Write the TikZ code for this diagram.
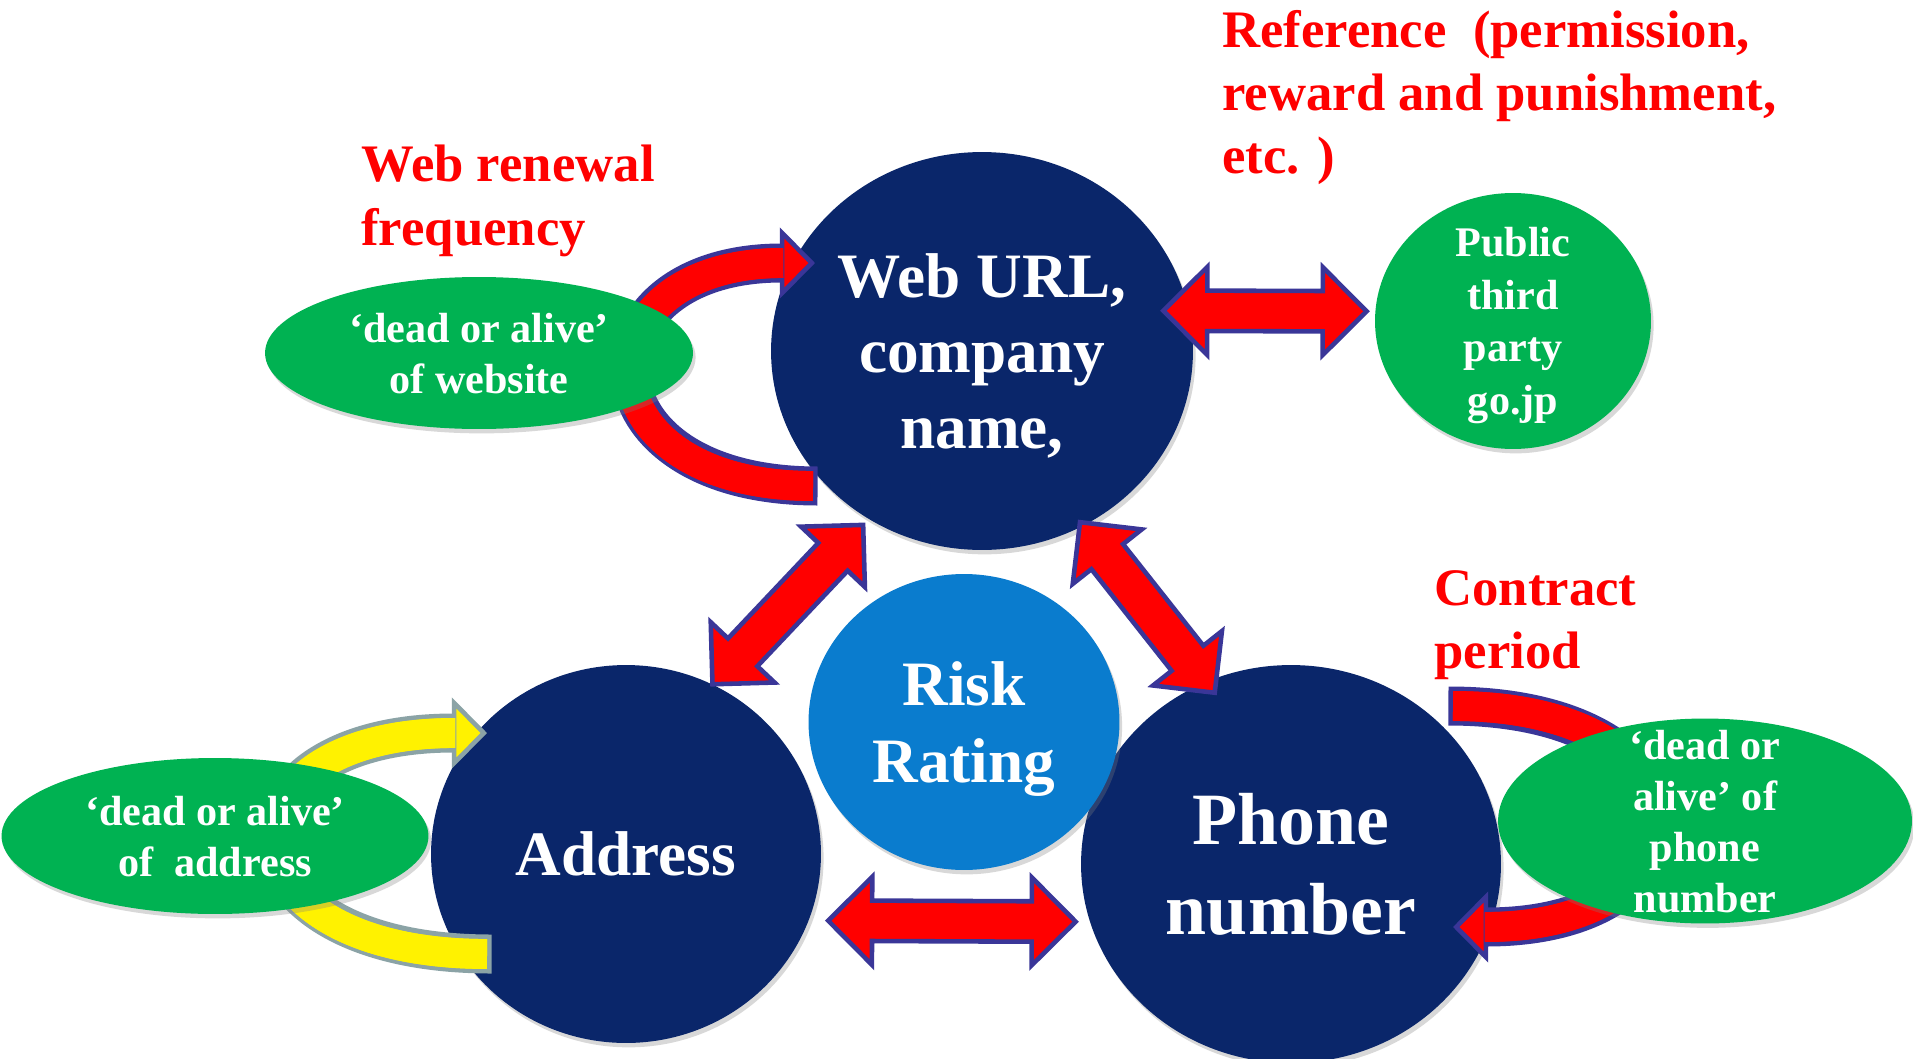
\documentclass[tikz,border=0pt]{standalone}
\usepackage{fontspec}
\setmainfont{Liberation Serif}
\usetikzlibrary{calc,shapes.geometric,arrows.meta,shadows}

\definecolor{navy}{RGB}{10,38,106}
\definecolor{riskblue}{RGB}{10,124,206}
\definecolor{leaf}{RGB}{0,178,82}
\definecolor{rim}{RGB}{58,54,152}
\definecolor{greyrim}{RGB}{139,163,166}

\begin{document}
\begin{tikzpicture}[x=0.02cm,y=-0.02cm]
  \tikzstyle{ball}=[ellipse,fill=navy,text=white,align=center,inner sep=0pt,text depth=0pt,
    drop shadow={opacity=0.3,shadow xshift=1.5pt,shadow yshift=-2.5pt}]
  \tikzstyle{pill}=[ball,fill=leaf,font=\bfseries\fontsize{24}{29}\selectfont]
  \tikzstyle{note}=[text=red,align=left,anchor=north west,inner sep=0pt,
    font=\bfseries\fontsize{30}{36}\selectfont]
  \tikzset{dblarrow/.style 2 args={fill=red,draw=rim,line width=2.6pt,
    to path={let \p1=($(\tikztostart)!#1!180:(\tikztotarget)$),
                 \p2=($(\tikztotarget)!#2!180:(\tikztostart)$),
                 \n1={atan2(\y2-\y1,\x2-\x1)} in
      (\p1) -- ($(\p1)+(\n1:25pt)+(\n1+90:25pt)$)
            -- ($(\p1)+(\n1:25pt)+(\n1+90:11.5pt)$)
            -- ($(\p2)+(\n1+180:25pt)+(\n1+90:11.5pt)$)
            -- ($(\p2)+(\n1+180:25pt)+(\n1+90:25pt)$)
            -- (\p2)
            -- ($(\p2)+(\n1+180:25pt)+(\n1-90:25pt)$)
            -- ($(\p2)+(\n1+180:25pt)+(\n1-90:11.5pt)$)
            -- ($(\p1)+(\n1:25pt)+(\n1-90:11.5pt)$)
            -- ($(\p1)+(\n1:25pt)+(\n1-90:25pt)$)
            -- cycle}}}

  \path[fill=white,use as bounding box] (0,0) rectangle (1913,1058);

  % the four circles and the go.jp ball
  \node[ball,minimum width=8.44cm,minimum height=7.96cm,
    font=\bfseries\fontsize{36}{43}\selectfont] (web) at (982,351) {Web URL,\\company\\name,};
  \node[ball,minimum width=7.8cm,minimum height=7.56cm,
    font=\bfseries\fontsize{36}{43}\selectfont] (addr) at (626,854) {Address};
  \node[ball,minimum width=8.4cm,minimum height=7.96cm,
    font=\bfseries\fontsize{42}{51}\selectfont] (phone) at (1291,864) {Phone\\number};
  \node[ball,fill=riskblue,minimum width=6.22cm,minimum height=5.92cm,
    font=\bfseries\fontsize{36}{44}\selectfont] (risk) at (964,722) {Risk\\Rating};
  \node[pill,minimum width=5.52cm,minimum height=5.12cm,inner ysep=-8pt,
    font=\bfseries\fontsize{24}{30}\selectfont] (third) at (1513,321) {Public\\third\\party\\go.jp};

  % straight double arrows
  \foreach \ga/\gb/\sa/\sb in {web.11/third.176/14.6pt/-4.8pt, addr.340/phone.196/-11pt/-8pt,
      addr.63/web.236/0pt/-4.5pt, web.300/phone.115/2.8pt/8pt}
    \draw[dblarrow={\sa}{\sb}] (\ga) to (\gb);

  % bent arrows running behind the ovals
  \coordinate (web-s) at ($(web)+(-169,135)$);
  \coordinate (web-e) at ($(web)+(-167,-88)$);
  \coordinate (addr-s) at ($(addr)+(-139,100)$);
  \coordinate (addr-e) at ($(addr)+(-139,-121)$);
  \coordinate (phone-s) at ($(phone)+(162,-158)$);
  \coordinate (phone-e) at ($(phone)+(162,63)$);
  \foreach \nd/\ang/\loose/\fc/\rc in {web/180/2.75/red/rim, addr/180/3.24/yellow/greyrim,
      phone/0/3.12/red/rim}{
    \draw[draw=\rc,line width=22.2pt,shorten <=-2.6pt,shorten >=19pt]
      (\nd-s) to[out=\ang,in=\ang,looseness=\loose] (\nd-e);
    \draw[draw=\fc,line width=17pt,
      -{Triangle[length=20pt,width=40pt,line width=2.6pt,fill=\fc,color=\rc]}]
      (\nd-s) to[out=\ang,in=\ang,looseness=\loose] (\nd-e);
    \draw[draw=\fc,line width=17pt,shorten >=18pt]
      (\nd-s) to[out=\ang,in=\ang,looseness=\loose] (\nd-e);
  }

  % green ovals
  \node[pill,minimum width=8.56cm,minimum height=3.04cm] (site) at (479,353)
    {‘dead or alive’\\of website};
  \node[pill,minimum width=8.54cm,minimum height=3.12cm] (addrcheck) at (215,836)
    {‘dead or alive’\\of \ address};
  \node[pill,minimum width=8.28cm,minimum height=4.1cm,inner ysep=-15pt] (phonecheck) at (1705,821)
    {‘dead or\\alive’ of\\phone\\number};

  % red notes
  \node[note] (reflab) at (1222,10) {Reference~~(permission,\\reward and punishment,\\etc. )};
  \node[note] (freqlab) at (361,145) {Web renewal\\frequency};
  \node[note] (periodlab) at (1434,570) {Contract\\period};
\end{tikzpicture}
\end{document}
